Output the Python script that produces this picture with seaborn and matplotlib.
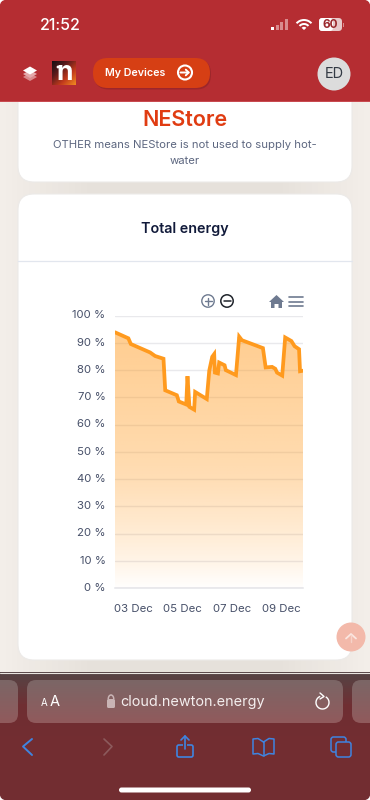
import numpy as np
import pandas as pd
import matplotlib
matplotlib.use("Agg")
import matplotlib.pyplot as plt
import matplotlib.dates as mdates
import seaborn as sns
from matplotlib.colors import LinearSegmentedColormap, to_rgb
from matplotlib.patches import FancyBboxPatch, Circle, Rectangle, Polygon, Arc, Wedge
from matplotlib.transforms import ScaledTranslation

# ---- data ----
day_of_december = [2.27, 2.81, 2.91, 3.69, 3.89, 4.23, 4.30, 4.77, 4.85, 5.15, 5.20, 5.28, 5.47, 5.51,
                   5.98, 6.08, 6.20, 6.28, 6.31, 6.43, 6.48, 6.70, 6.75, 7.16, 7.29, 7.40, 8.25, 8.36,
                   8.62, 8.75, 8.82, 9.03, 9.15, 9.40, 9.53, 9.71, 9.75, 9.87]
energy_percent = [93.9, 91.7, 89.6, 86.5, 85.2, 84.2, 72.6, 70.8, 68.5, 67.4, 77.8, 66.5, 65.5, 72.0,
                  69.4, 79.8, 84.9, 85.9, 79.1, 78.8, 82.8, 81.8, 80.0, 78.2, 92.3, 91.0, 88.1, 81.0,
                  81.2, 80.5, 79.1, 78.0, 92.0, 90.7, 88.8, 87.7, 79.6, 79.8]
y_ticks = list(range(0, 101, 10))
x_tick_days = [3, 5, 7, 9]

sns.set_theme(style="white")
plt.rcParams["font.family"] = ["Inter", "DejaVu Sans"]

W, H = 370, 800
fig = plt.figure(figsize=(W / 100, H / 100), dpi=100)

# ---- page chrome, in pixel coordinates ----
bg = fig.add_axes([0, 0, 1, 1], zorder=0)
bg.set_xlim(0, W); bg.set_ylim(H, 0); bg.axis("off")

def vgrad(ax, x0, x1, y0, y1, stops, z=1, **kw):
    cm = LinearSegmentedColormap.from_list("g", stops)
    return ax.imshow(np.linspace(0, 1, 64)[:, None], extent=(x0, x1, y1, y0), cmap=cm,
                     aspect="auto", zorder=z, vmin=0, vmax=1, **kw)

def hgrad(ax, x0, x1, y0, y1, stops, z=1):
    cm = LinearSegmentedColormap.from_list("g", stops)
    ax.imshow(np.linspace(0, 1, 64)[None, :], extent=(x0, x1, y1, y0), cmap=cm,
              aspect="auto", zorder=z, vmin=0, vmax=1)

def rbox(ax, x0, y0, x1, y1, r, fc, ec="none", z=3, lw=0.8, alpha=None):
    p = FancyBboxPatch((x0 + r, y0 + r), x1 - x0 - 2 * r, y1 - y0 - 2 * r,
                       boxstyle=f"round,pad={r},rounding_size={r}", fc=fc, ec=ec, lw=lw, zorder=z, alpha=alpha)
    ax.add_patch(p)
    return p

hgrad(bg, 0, W, 101, 673, ["#f3eee9", "#e6e1db", "#e6e1db", "#e6e1db", "#f3eee9"], z=1)
bg.add_patch(Rectangle((0, 0), W, 101, fc="#b52d32", ec="none", zorder=2))

# cards
rbox(bg, 18, 60, 352, 182, 16, "white", "#eceae8", z=3)
bg.add_patch(Rectangle((0, 0), W, 101, fc="#b52d32", ec="none", zorder=3.5))
bg.add_patch(Rectangle((0, 100.5), W, 1.2, fc="#c94a50", ec="none", zorder=3.6))
rbox(bg, 18, 194, 352, 660, 16, "white", "#eceae8", z=3)
bg.plot([18, 352], [261, 261], color="#e2e6ee", lw=0.9, zorder=4)

# status bar
bg.text(60.5, 25, "21:52", color="white", fontsize=11.5, fontweight="medium", ha="center", va="center", zorder=5)
for i, h in enumerate([3, 5, 8, 11]):
    bg.add_patch(Rectangle((271 + i * 4.6, 30 - h), 3, h, fc="white" if i == 0 else "#d98a8d", ec="none", zorder=5))
for r in [11, 7]:
    bg.add_patch(Wedge((304, 30), r, 222, 318, width=2, fc="white", ec="none", zorder=5))
bg.add_patch(Wedge((304, 30), 3.2, 222, 318, fc="white", ec="none", zorder=5))
rbox(bg, 319, 18, 342, 31, 3.5, "#e8c9ca", z=5)
rbox(bg, 319, 18, 333, 31, 3.5, "white", z=5.1)
bg.add_patch(Rectangle((343, 22.5), 1.2, 4, fc="#d98a8d", ec="none", zorder=5))
bg.text(330, 24.8, "60", color="#9b2a2e", fontsize=8.5, fontweight="bold", ha="center", va="center", zorder=6)

# nav bar
for y, c in [(77, "#d98a8d"), (74, "#e4a9ab"), (70.5, "white")]:
    bg.add_patch(Polygon([(23, y), (30, y - 4), (37, y), (30, y + 4)], fc=c, ec="none", zorder=5))
logo_x, logo_y = np.meshgrid(np.linspace(0, 1, 32), np.linspace(0, 1, 32))
logo_cm = LinearSegmentedColormap.from_list("logo", ["#141014", "#5a1a1c", "#c23a1c", "#f08a20"])
bg.imshow((logo_x + logo_y) / 2, extent=(52, 76, 85, 61), cmap=logo_cm, aspect="auto", zorder=5, vmin=0, vmax=1)
bg.text(64.5, 73, "n", color="white", fontsize=19, fontweight="bold", ha="center", va="center", zorder=6)
bg.add_patch(Circle((58, 67), 1.4, fc="white", ec="none", zorder=6))
rbox(bg, 94, 59, 211, 89.5, 15, "#8a2226", z=4, alpha=0.55)
rbox(bg, 93, 58, 210, 88, 15, "#d63f14", z=5)
bg.text(135, 73.5, "My Devices", color="white", fontsize=7.7, fontweight="semibold", ha="center", va="center", zorder=6)
bg.add_patch(Circle((185, 72.5), 7, fc="none", ec="white", lw=1.5, zorder=6))
bg.annotate("", xy=(190, 72.5), xytext=(180.5, 72.5), zorder=6,
            arrowprops=dict(arrowstyle="->,head_width=0.17,head_length=0.17", color="white", lw=1.4, shrinkA=0, shrinkB=0))
bg.add_patch(Circle((334, 74), 16.5, fc="#dcdcdc", ec="none", zorder=5))
bg.text(334, 74, "ED", color="#333a44", fontsize=10.5, ha="center", va="center", zorder=6)

# card texts
bg.text(185, 120, "NEStore", color="#e03c12", fontsize=15.5, fontweight="semibold", ha="center", va="center", zorder=6)
bg.text(185, 144.5, "OTHER means NEStore is not used to supply hot-", color="#5d6780", fontsize=8.15, ha="center", va="center", zorder=6)
bg.text(185, 161.5, "water", color="#5d6780", fontsize=8.15, ha="center", va="center", zorder=6)
bg.text(185, 229, "Total energy", color="#111a3a", fontsize=10.3, fontweight="semibold", ha="center", va="center", zorder=6)

# chart toolbar
icon = "#6e7a90"
bg.add_patch(Circle((208, 301), 6.2, fc="none", ec=icon, lw=1.0, zorder=6))
bg.plot([204.5, 211.5], [301, 301], color=icon, lw=1.0, zorder=6)
bg.plot([208, 208], [297.5, 304.5], color=icon, lw=1.0, zorder=6)
bg.add_patch(Circle((227, 301), 6.2, fc="none", ec="#20242c", lw=1.1, zorder=6))
bg.plot([223.5, 230.5], [301, 301], color="#20242c", lw=1.1, zorder=6)
bg.add_patch(Polygon([(269, 302), (276.5, 295), (284, 302), (282, 302), (282, 308), (278.5, 308), (278.5, 304),
                      (274.5, 304), (274.5, 308), (271, 308), (271, 302)], fc=icon, ec="none", zorder=6))
for y in [297, 301.5, 306]:
    bg.plot([288.5, 303], [y, y], color=icon, lw=1.2, zorder=6)

# scroll-to-top button
bg.add_patch(Circle((351, 637), 14.5, fc="#f3b9aa", ec="none", zorder=6))
bg.plot([346, 351, 356], [638.5, 634, 638.5], color="#fbe6e0", lw=1.3, zorder=7)
bg.plot([351, 351], [635, 642], color="#f7d3c9", lw=1.0, zorder=7)

# browser bars
vgrad(bg, 0, W, 672, 800, ["#554445", "#6f2f33", "#722d31", "#722d31", "#722d31"], z=7)
bg.plot([0, W], [672.5, 672.5], color="#e9e5e0", lw=0.8, zorder=8)
for x0, x1 in [(-20, 18), (27, 343), (352, 390)]:
    clip = rbox(bg, x0, 680, x1, 723, 9, "none", z=8)
    im = vgrad(bg, x0, x1, 680, 723, ["#7b6666", "#915a5c"], z=8)
    im.set_clip_path(clip)
bg.set_xlim(0, W); bg.set_ylim(H, 0)
bg.text(44, 703.5, "A", color="white", fontsize=7, ha="center", va="center", zorder=9)
bg.text(55, 702, "A", color="white", fontsize=10.5, ha="center", va="center", zorder=9)
rbox(bg, 107, 699, 115, 708, 1.5, "#c9b4b5", z=9)
bg.add_patch(Arc((111, 699), 5.5, 8, theta1=180, theta2=360, ec="#c9b4b5", lw=1.1, zorder=9))
bg.text(193, 702, "cloud.newton.energy", color="#f4eeee", fontsize=10.4, ha="center", va="center", zorder=9)
bg.add_patch(Arc((322.5, 702.5), 13, 13, theta1=-60, theta2=250, ec="white", lw=1.0, zorder=9))
bg.plot([320, 324, 320], [693, 696.5, 699], color="white", lw=1.0, zorder=9)

blue = "#3f84e0"
bg.plot([32, 23, 32], [739, 746.5, 755], color=blue, lw=1.4, zorder=9)
bg.plot([104, 112, 104], [739, 746.5, 755], color="#8c5a5c", lw=1.2, zorder=9)
rbox(bg, 177, 745, 193, 757, 1.8, "none", blue, z=9, lw=1.2)
bg.add_patch(Rectangle((183, 742), 4, 5, fc="#722d31", ec="none", zorder=9.1))
bg.plot([185, 185], [736, 749], color=blue, lw=1.2, zorder=9.2)
bg.plot([181, 185, 189], [740, 736, 740], color=blue, lw=1.2, zorder=9.2)
bg.plot([263.5, 263.5], [742, 756], color=blue, lw=1.1, zorder=9)
bg.plot([263.5, 258, 253, 253, 258, 263.5, 269, 274, 274, 269, 263.5],
        [742, 738.5, 739, 754, 753.5, 756, 753.5, 754, 739, 738.5, 742], color=blue, lw=1.1, zorder=9)
rbox(bg, 331, 737, 346, 752, 2.5, "none", blue, z=9, lw=1.1)
rbox(bg, 336, 742, 351, 757, 2.5, "#722d31", blue, z=9.1, lw=1.1)
rbox(bg, 119, 787.5, 251, 792.5, 2.5, "white", z=9)

# rounded screenshot corners
for cx, cy, t1 in [(6, 6, 180), (W - 6, 6, 270), (6, H - 6, 90), (W - 6, H - 6, 0)]:
    ox = -6 if cx < 100 else 6
    oy = -6 if cy < 100 else 6
    bg.add_patch(Polygon([(cx + ox, cy), (cx + ox, cy + oy), (cx, cy + oy)], fc="white", ec="none", zorder=10))
    bg.add_patch(Wedge((cx, cy), 6.2, t1, t1 + 90, fc="#b52d32" if cy < 100 else "#722d31", ec="none", zorder=10.1))
bg.set_xlim(0, W); bg.set_ylim(H, 0)

# ---- the chart itself ----
L, R, T, B = 115, 303, 315.7, 588.0
ax = fig.add_axes([L / W, 1 - B / H, (R - L) / W, (B - T) / H], zorder=2)
ax.patch.set_alpha(0)

def to_time(d):
    return pd.Timestamp("2023-12-01") + pd.to_timedelta(d - 1, unit="D")

df = pd.DataFrame({"time": [to_time(d) for d in day_of_december], "energy": energy_percent})
xlim = (df["time"].iloc[0], df["time"].iloc[-1])
line_color = "#ff9a1e"

# orange fading to transparent towards the axis, laid over the grid lines
levels = np.linspace(100, 0, 256)
rgba = np.zeros((256, 1, 4))
rgba[..., :3] = to_rgb(line_color)
rgba[:, 0, 3] = np.interp(levels, [0, 10, 20, 40, 50, 100], [0.01, 0.11, 0.19, 0.33, 0.37, 0.51])
x0n, x1n = mdates.date2num(xlim[0]), mdates.date2num(xlim[1])
im = ax.imshow(rgba, extent=(x0n, x1n, 0, 100), aspect="auto", zorder=1)
xn = mdates.date2num(df["time"])
poly = Polygon(list(zip(xn, df["energy"])) + [(x1n, 0), (x0n, 0)], closed=True, transform=ax.transData,
               fc="none", ec="none")
ax.add_patch(poly)
im.set_clip_path(poly)

sns.lineplot(data=df, x="time", y="energy", ax=ax, color=line_color, lw=2.7, zorder=3,
             solid_joinstyle="miter", clip_on=True)
ax.set_xlim(*xlim)
ax.set_ylim(0, 100)
ax.set_xlabel(""); ax.set_ylabel("")
ax.set_yticks(y_ticks)
ax.set_yticklabels([f"{v} %" for v in y_ticks])
ax.set_xticks([to_time(d) for d in x_tick_days])
ax.xaxis.set_major_formatter(mdates.DateFormatter("%d %b"))
ax.tick_params(axis="y", length=0, pad=6.8, labelsize=8.2, labelcolor="#475069")
ax.tick_params(axis="x", length=4.3, width=1.0, color="#dedee3", pad=7.4, labelsize=8.2, labelcolor="#475069")
ax.set_axisbelow(True)
ax.grid(axis="y", color="#e9e9ec", lw=1.0, zorder=0.5)
ax.grid(axis="x", visible=False)
for name, s in ax.spines.items():
    s.set_visible(name == "bottom")
ax.spines["bottom"].set_color("#e4e4e8")
ax.spines["bottom"].set_linewidth(1.1)
nudge = ScaledTranslation(0, 1.2 / 100, fig.dpi_scale_trans)
for lbl in ax.get_yticklabels():
    lbl.set_transform(lbl.get_transform() + nudge)

fig.savefig("out.png", dpi=100)
